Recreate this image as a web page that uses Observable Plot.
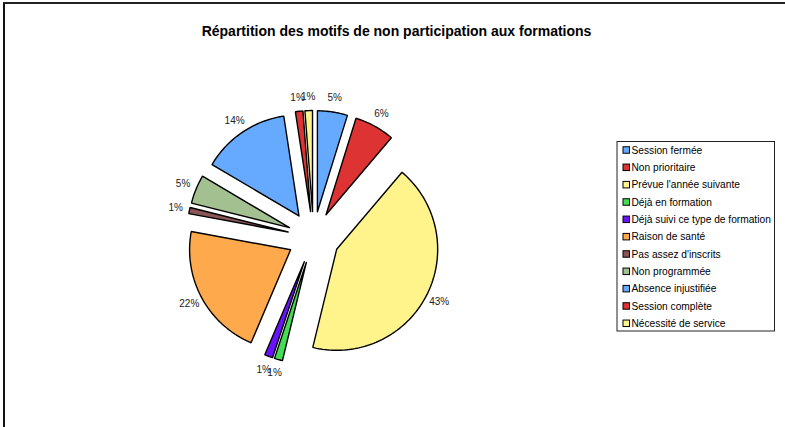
<!DOCTYPE html>
<html><head><meta charset="utf-8">
<script src="https://cdn.jsdelivr.net/npm/d3@7"></script>
<script src="https://cdn.jsdelivr.net/npm/@observablehq/plot@0.6"></script>
<style>body{margin:0;background:#fff}</style>
</head><body><div id="chart"></div>
<script>
const title = "Répartition des motifs de non participation aux formations";
const categories = ["Session fermée","Non prioritaire","Prévue l'année suivante","Déjà en formation","Déjà suivi ce type de formation","Raison de santé","Pas assez d'inscrits","Non programmée","Absence injustifiée","Session complète","Nécessité de service"];
const values = [4.8, 6.4, 42.6, 1.3, 1.3, 21.5, 1.0, 4.6, 14.1, 1.2, 1.2];
const labels = ["5%","6%","43%","1%","1%","22%","1%","5%","14%","1%","1%"];
const colors = ["#66aaff","#dd3333","#fff38c","#44dd55","#6a11ff","#ffa94d","#8a5555","#a3c090","#66aaff","#dd3333","#fff38c"];

const W = 785, H = 427;
const cx = 313, cy = 237, R = 101, explode = 26, labelR = 141;
const font = "Liberation Sans, Arial, sans-serif";

const arcs = d3.pie().sort(null).value(d => d)(values);
const slicePts = [];
const labelPts = [];
arcs.forEach((a, i) => {
  const mid = (a.startAngle + a.endAngle) / 2;
  const ox = cx + explode * Math.sin(mid), oy = cy - explode * Math.cos(mid);
  slicePts.push({i, x: ox, y: oy});
  const n = Math.max(2, Math.ceil((a.endAngle - a.startAngle) / 0.02));
  for (let k = 0; k <= n; k++) {
    const t = a.startAngle + (a.endAngle - a.startAngle) * k / n;
    slicePts.push({i, x: ox + R * Math.sin(t), y: oy - R * Math.cos(t)});
  }
  slicePts.push({i, x: ox, y: oy});
  labelPts.push({i, x: cx + labelR * Math.sin(mid), y: cy - labelR * Math.cos(mid), text: labels[i]});
});

const legX = 617, legY = 141.5, legW = 157.5, legH = 189.5, rowY0 = 150, rowStep = 17.33;
const legendRows = categories.map((c, i) => ({c, i, y: rowY0 + i * rowStep}));

const chart = Plot.plot({
  width: W, height: H,
  margin: 0,
  x: {domain: [0, W], range: [0, W], axis: null},
  y: {domain: [0, H], range: [0, H], axis: null},
  color: {type: "identity"},
  style: {fontFamily: font, background: "#fff"},
  marks: [
    Plot.ruleX([3.5], {y1: 2, y2: H, stroke: "#111", strokeWidth: 2}),
    Plot.ruleY([2.5], {x1: 3, x2: W, stroke: "#222", strokeWidth: 2}),
    Plot.text([title], {x: () => 396, y: () => 31, text: d => d, fontWeight: "bold", fontSize: 14, fill: "#000", fontFamily: font}),
    Plot.line(slicePts, {x: "x", y: "y", z: "i", fill: d => colors[d.i], stroke: "#000", strokeWidth: 1.4, strokeLinejoin: "miter", curve: "linear"}),
    Plot.text(labelPts, {x: "x", y: "y", text: "text", fontSize: 10, fill: "#222", fontFamily: font}),
    Plot.rect([0], {x1: legX, x2: legX + legW, y1: legY, y2: legY + legH, fill: "none", stroke: "#222", strokeWidth: 1}),
    Plot.rect(legendRows, {x1: 623, x2: 629.5, y1: d => d.y - 3.25, y2: d => d.y + 3.25, fill: d => colors[d.i], stroke: "#000", strokeWidth: 1}),
    Plot.text(legendRows, {x: () => 631, y: "y", text: "c", textAnchor: "start", fontSize: 10.2, fill: "#000", fontFamily: font})
  ]
});
document.getElementById("chart").appendChild(chart);
</script>
</body></html>
